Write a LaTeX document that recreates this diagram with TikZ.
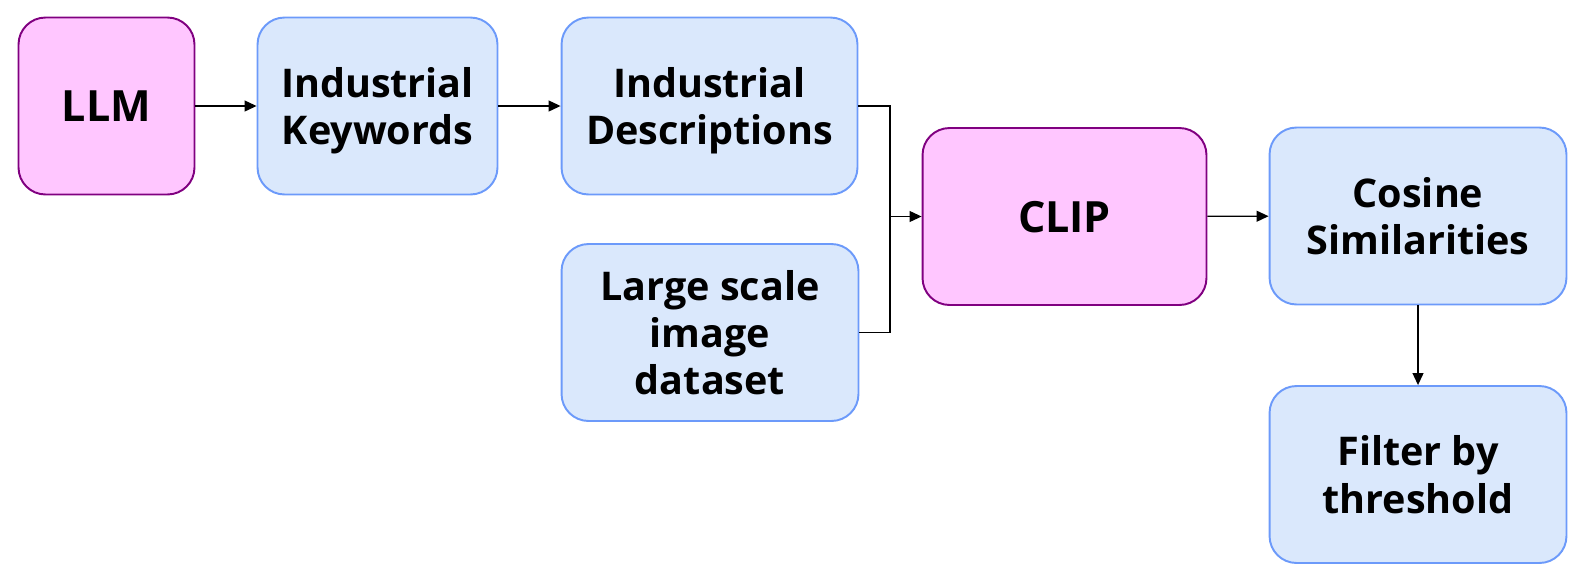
\documentclass[tikz,border=0pt]{standalone}
\usepackage{fontspec}
\setmainfont{Open Sans}
\usetikzlibrary{arrows.meta}
\definecolor{pinkfill}{RGB}{255,198,255}
\definecolor{pinkline}{RGB}{128,0,128}
\definecolor{bluefill}{RGB}{218,232,252}
\definecolor{blueline}{RGB}{108,154,250}
\begin{document}
\begin{tikzpicture}
[x=0.02cm, y=-0.02cm,
every node/.style={rounded corners=0.54cm,align=center,line width=1.1pt,
  minimum height=3.54cm,text depth=0pt,
  font=\bfseries\fontsize{22.5}{26.9}\selectfont},
model/.style={draw=pinkline,fill=pinkfill,font=\bfseries\fontsize{24.5}{28}\selectfont},
item/.style={draw=blueline,fill=bluefill},
link/.style={line width=0.75pt,-{Triangle[length=6.8pt,width=6.2pt]}},
]
\useasboundingbox (0,0) rectangle (1591,585);

\node[model,minimum width=3.52cm] (llm) at (106.5,106) {LLM};
\node[item,minimum width=4.8cm] (kw) at (377.5,106) {Industrial\\Keywords};
\node[item,minimum width=5.92cm] (desc) at (709.5,106) {Industrial\\Descriptions};
\node[item,minimum width=5.94cm] (data) at (710,332.5) {Large scale\\image\\dataset};
\node[model,minimum width=5.68cm] (clip) at (1064.5,216.5) {CLIP};
\node[item,minimum width=5.94cm] (cos) at (1418,216) {Cosine\\Similarities};
\node[item,minimum width=5.94cm] (filt) at (1418,474.5) {Filter by\\threshold};
\coordinate (join) at (890,216.5);

\draw[link] (llm) -- (kw);
\draw[link] (kw) -- (desc);
\draw[line width=0.75pt] (desc.east) -| (join);
\draw[line width=0.75pt] (data.east) -| (join);
\draw[link] (join) -- (clip);
\draw[link] (clip) -- (cos);
\draw[link] (cos) -- (filt);
\end{tikzpicture}
\end{document}
